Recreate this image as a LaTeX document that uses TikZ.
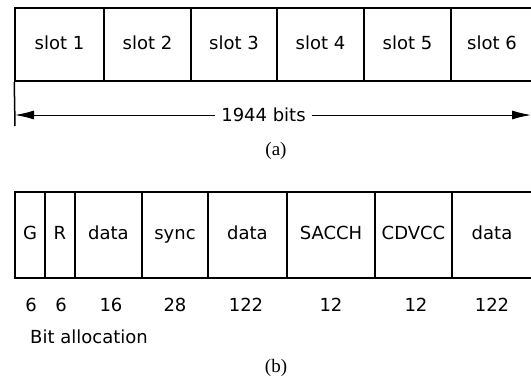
\documentclass[tikz,border=0pt]{standalone}
\usepackage{fontspec}
\setmainfont{DejaVu Sans}
\newfontfamily\capfont{Liberation Serif}
\usetikzlibrary{arrows.meta}
\tikzset{
  cell/.style={draw, line width=1.5pt, inner sep=0pt, text height=13pt, text depth=4pt, font=\fontsize{18}{20}\selectfont},
  topcell/.style={cell, minimum height=73pt},
  botcell/.style={cell, minimum height=86pt},
  lbl/.style={inner sep=0pt, text height=13pt, text depth=4pt, font=\fontsize{18}{20}\selectfont},
  num/.style={inner sep=0pt, font=\fontsize{18}{20}\selectfont},
  caption/.style={inner sep=0pt, font=\capfont\fontsize{19}{21}\selectfont},
  dim/.style={line width=1pt, -{Latex[length=19pt,width=9pt]}}
}
\begin{document}
\begin{tikzpicture}[x=1pt,y=-1pt]
\useasboundingbox (0,0) rectangle (531,381);
\clip (0,0) rectangle (531,381);
% (a) frame of six slots
\node[topcell, minimum width=89pt] (s1) at (59.5,44.5) {slot 1};
\node[topcell, minimum width=87pt] (s2) at (147.5,44.5) {slot 2};
\node[topcell, minimum width=86pt] (s3) at (234,44.5) {slot 3};
\node[topcell, minimum width=87pt] (s4) at (320.5,44.5) {slot 4};
\node[topcell, minimum width=87pt] (s5) at (407.5,44.5) {slot 5};
\node[topcell, minimum width=90pt] (s6) at (496,44.5) {};
\node[lbl] (s6t) at (492,44.5) {slot 6};
\coordinate (tickend) at (15,126);
\draw[line width=1.5pt] (s1.south west) -- (tickend);
\node[inner sep=6pt, font=\fontsize{18}{20}\selectfont] (bits) at (263.5,115) {1944 bits};
\coordinate (la) at (15,115);
\coordinate (ra) at (531,115);
\draw[dim] (bits.west) -- (la);
\draw[dim] (bits.east) -- (ra);
\node[caption] (capa) at (276,151) {(a)};
% (b) slot structure
\node[botcell, minimum width=30pt] (g) at (30,235) {G};
\node[botcell, minimum width=30pt] (r) at (60,235) {R};
\node[botcell, minimum width=67pt] (d1) at (108.5,235) {data};
\node[botcell, minimum width=66pt] (sy) at (175,235) {sync};
\node[botcell, minimum width=79pt] (d2) at (247.5,235) {data};
\node[botcell, minimum width=88pt] (sa) at (331,235) {SACCH};
\node[botcell, minimum width=77pt] (cd) at (413.5,235) {CDVCC};
\node[botcell, minimum width=84pt] (d3) at (494,235) {};
\node[lbl] (d3t) at (492,235) {data};
\node[num] (n1) at (31,305) {6};
\node[num] (n2) at (61,305) {6};
\node[num] (n3) at (111,305) {16};
\node[num] (n4) at (175,305) {28};
\node[num] (n5) at (246,305) {122};
\node[num] (n6) at (331,305) {12};
\node[num] (n7) at (416,305) {12};
\node[num] (n8) at (492,305) {122};
\node[num, anchor=west] (ba) at (30,337) {Bit allocation};
\node[caption] (capb) at (276,368) {(b)};
\end{tikzpicture}
\end{document}
